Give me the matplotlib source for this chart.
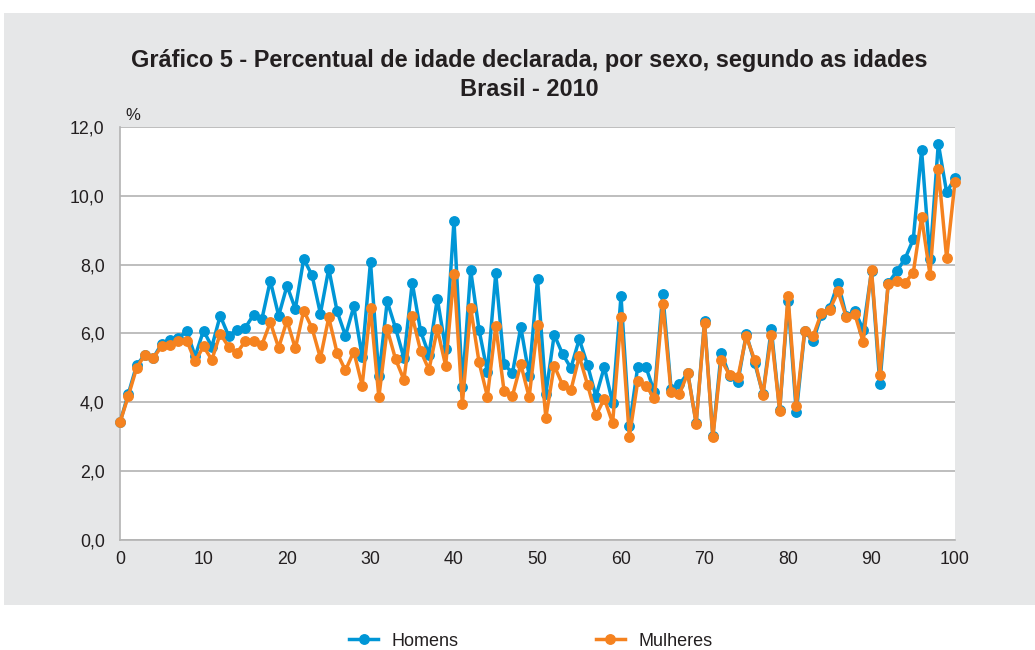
import matplotlib
matplotlib.use('Agg')
from matplotlib import pyplot as plt
from matplotlib.patches import Rectangle
import numpy as np

plt.rcParams['font.family'] = ['Liberation Sans', 'DejaVu Sans']

ages = list(range(0, 101))

homens = [3.41, 4.24, 5.08, 5.38, 5.29, 5.70, 5.81, 5.87, 6.06, 5.33,
          6.08, 5.61, 6.51, 5.93, 6.10, 6.16, 6.54, 6.42, 7.53, 6.51,
          7.38, 6.71, 8.16, 7.69, 6.57, 7.88, 6.64, 5.93, 6.78, 5.32,
          8.08, 4.75, 6.93, 6.15, 5.28, 7.47, 6.06, 5.38, 7.01, 5.54,
          9.28, 4.45, 7.83, 6.10, 4.87, 7.74, 5.10, 4.84, 6.18, 4.77,
          7.58, 4.24, 5.96, 5.40, 4.99, 5.83, 5.07, 4.16, 5.02, 3.97,
          7.08, 3.29, 5.02, 5.01, 4.28, 7.15, 4.38, 4.52, 4.84, 3.39,
          6.35, 3.00, 5.43, 4.77, 4.58, 5.98, 5.15, 4.23, 6.13, 3.76,
          6.93, 3.70, 6.06, 5.77, 6.54, 6.74, 7.47, 6.49, 6.66, 6.10,
          7.80, 4.53, 7.45, 7.80, 8.16, 8.73, 11.33, 8.16, 11.52, 10.10,
          10.52]

mulheres = [3.41, 4.18, 5.00, 5.38, 5.29, 5.62, 5.67, 5.77, 5.79, 5.18,
            5.62, 5.23, 5.99, 5.61, 5.43, 5.77, 5.77, 5.67, 6.32, 5.58,
            6.37, 5.56, 6.66, 6.15, 5.28, 6.46, 5.43, 4.92, 5.47, 4.48,
            6.74, 4.14, 6.12, 5.25, 4.65, 6.49, 5.49, 4.94, 6.12, 5.06,
            7.73, 3.94, 6.74, 5.16, 4.16, 6.22, 4.31, 4.18, 5.10, 4.14,
            6.23, 3.55, 5.06, 4.50, 4.34, 5.33, 4.50, 3.61, 4.10, 3.39,
            6.47, 2.99, 4.60, 4.47, 4.11, 6.85, 4.28, 4.24, 4.84, 3.37,
            6.30, 2.98, 5.23, 4.79, 4.72, 5.91, 5.23, 4.21, 5.96, 3.75,
            7.09, 3.90, 6.08, 5.91, 6.59, 6.69, 7.22, 6.46, 6.56, 5.75,
            7.85, 4.79, 7.44, 7.51, 7.47, 7.76, 9.38, 7.71, 10.77, 8.18,
            10.41]

xticks = [0, 10, 20, 30, 40, 50, 60, 70, 80, 90, 100]
yticks = [0, 2, 4, 6, 8, 10, 12]

blue = '#0096d6'
orange = '#f5821f'
panel = '#e6e7e8'

W, H = 1035, 650
fig = plt.figure(figsize=(W / 100, H / 100), dpi=100)
fig.patch.set_facecolor('white')

# grey panel behind the chart (legend sits outside it)
fig.patches.append(Rectangle((4 / W, 1 - 605 / H), 1 - 4 / W, (605 - 13) / H,
                             transform=fig.transFigure, facecolor=panel,
                             edgecolor='none', zorder=-5))

ax = fig.add_axes([120 / W, 1 - 539.6 / H, (955 - 120) / W, (539.6 - 127) / H])
ax.set_zorder(2)
ax.set_facecolor('white')

ax.plot(ages, homens, color=blue, lw=2.5, marker='o', ms=6.8, label='Homens',
        clip_on=False, zorder=3)
ax.plot(ages, mulheres, color=orange, lw=2.5, marker='o', ms=6.8, label='Mulheres',
        clip_on=False, zorder=4)

ax.set_xlim(0, 100)
ax.set_ylim(0, 12)
ax.set_xticks(xticks)
ax.set_yticks(yticks)
ax.set_yticklabels([f'{v:.1f}'.replace('.', ',') for v in yticks])
ax.tick_params(length=0, labelsize=12.8, colors='#231f20', pad=11)
ax.tick_params(axis='x', pad=8)
ax.grid(axis='y', color='#b3b3b3', lw=1.2)
ax.set_axisbelow(True)
for side in ['top', 'right']:
    ax.spines[side].set_visible(False)
for side in ['left', 'bottom']:
    ax.spines[side].set_color('#b3b3b3')
    ax.spines[side].set_linewidth(1.2)

fig.text(133 / W, 1 - 115 / H, '%', fontsize=12, color='#231f20', ha='center', va='center')

fig.text(529 / W, 1 - 61 / H,
         'Gráfico 5 - Percentual de idade declarada, por sexo, segundo as idades',
         fontsize=16.9, fontweight='bold', ha='center', va='center', color='#231f20')
fig.text(529 / W, 1 - 90 / H, 'Brasil - 2010',
         fontsize=16.9, fontweight='bold', ha='center', va='center', color='#231f20')

leg = fig.legend(loc='center', bbox_to_anchor=(531 / W, 1 - 641 / H), ncol=2,
                 frameon=False, fontsize=13, handlelength=1.6, columnspacing=7.6,
                 handletextpad=0.75)
for t in leg.get_texts():
    t.set_color('#231f20')

fig.savefig('out.png', dpi=100)
plt.close(fig)
